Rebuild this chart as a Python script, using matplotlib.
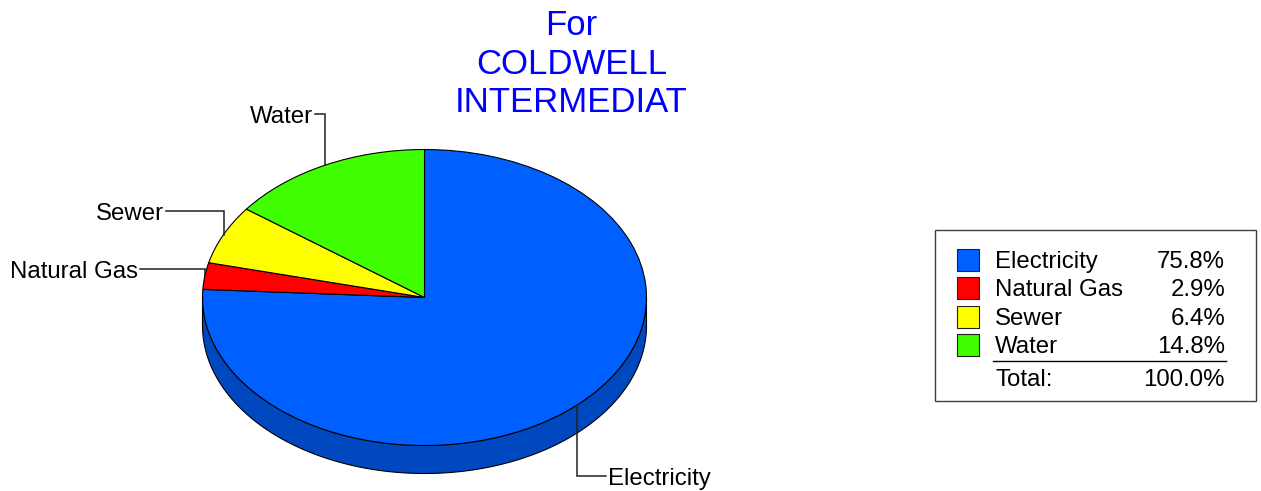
import numpy as np
import matplotlib
matplotlib.use("Agg")
import matplotlib.pyplot as plt
from matplotlib.patches import Rectangle

# ---- data ----
categories = ["Electricity", "Natural Gas", "Sewer", "Water"]
shares = [75.8, 2.9, 6.4, 14.8]
colors = ["#0060FF", "#FF0000", "#FFFF00", "#40FF00"]
side_colors = ["#0048BF", "#BF0000", "#BFBF00", "#30BF00"]
title_lines = ["For", "COLDWELL", "INTERMEDIAT"]
total_label = "Total:"
total_share = 100.0

# ---- layout (pixels) ----
W, H = 1261, 491
CX, CY, RX, RY, DEPTH = 424.5, 297.5, 222.0, 148.0, 28.0
# label text anchor x, baseline y, alignment
label_layout = [(608, 485, "left"), (138, 278, "right"), (164, 220, "right"), (313, 123, "right")]
FONT = "Liberation Sans"

fig = plt.figure(figsize=(W / 100, H / 100), dpi=100)
ax = fig.add_axes([0, 0, 1, 1])

def xd(xp):
    return (xp - CX) / RX

def yd(yp):
    return (CY - yp) / RY

wedges, _ = ax.pie(shares, colors=colors, startangle=90, counterclock=False, radius=1,
                   wedgeprops=dict(edgecolor="black", linewidth=0.8))
ax.set_aspect("auto")
ax.set_xlim(xd(0), xd(W))
ax.set_ylim(yd(H), yd(0))
ax.axis("off")

D = DEPTH / RY
# side wall of the visible (front) half
for w, sc in zip(wedges, side_colors):
    t1, t2 = w.theta1, w.theta2
    for k in (-360, 0, 360):
        a = max(t1, 180 + k)
        b = min(t2, 360 + k)
        if b > a:
            t = np.radians(np.linspace(a, b, 300))
            x = np.cos(t)
            y = np.sin(t)
            ax.fill(np.r_[x, x[::-1]], np.r_[y, (y - D)[::-1]], facecolor=sc,
                    edgecolor="black", linewidth=0.8, zorder=0.5)

# labels with leader lines
for w, name, (lx, ly, ha) in zip(wedges, categories, label_layout):
    m = np.radians((w.theta1 + w.theta2) / 2)
    axp, ayp = np.cos(m), np.sin(m)
    ly_line = yd(ly - 9)
    gap = 2 / RX
    ex = xd(lx) + (-gap if ha == "left" else gap)
    ax.plot([axp, axp, ex], [ayp, ly_line, ly_line], color="#202020", lw=1.1, zorder=3,
            solid_joinstyle="miter", clip_on=False)
    ax.text(xd(lx), yd(ly), name, ha=ha, va="baseline", fontsize=17.3, family=FONT,
            color="black", zorder=4)

# title
for line, base in zip(title_lines, [35, 74, 112]):
    ax.text(xd(571.5), yd(base), line, ha="center", va="baseline", fontsize=25,
            family=FONT, color="#0000FF")

# legend
ax.add_patch(Rectangle((xd(935), yd(401)), (1256 - 935) / RX, (401 - 230) / RY,
                       fill=False, edgecolor="#404040", linewidth=1.0, zorder=2))
baselines = [268, 296.5, 325, 353]
for name, val, col, base in zip(categories, shares, colors, baselines):
    ax.add_patch(Rectangle((xd(957), yd(base + 2.5)), 22 / RX, 22 / RY,
                           facecolor=col, edgecolor="#202020", linewidth=0.8, zorder=2))
    ax.text(xd(995), yd(base), name, ha="left", va="baseline", fontsize=17.3, family=FONT)
    ax.text(xd(1225), yd(base), f"{val:.1f}%", ha="right", va="baseline", fontsize=17.3,
            family=FONT)
ax.plot([xd(993), xd(1226)], [yd(361), yd(361)], color="black", lw=1.0)
ax.text(xd(995), yd(386), total_label, ha="left", va="baseline", fontsize=17.3, family=FONT)
ax.text(xd(1225), yd(386), f"{total_share:.1f}%", ha="right", va="baseline", fontsize=17.3,
        family=FONT)

fig.savefig("out.png", dpi=100, facecolor="white")
